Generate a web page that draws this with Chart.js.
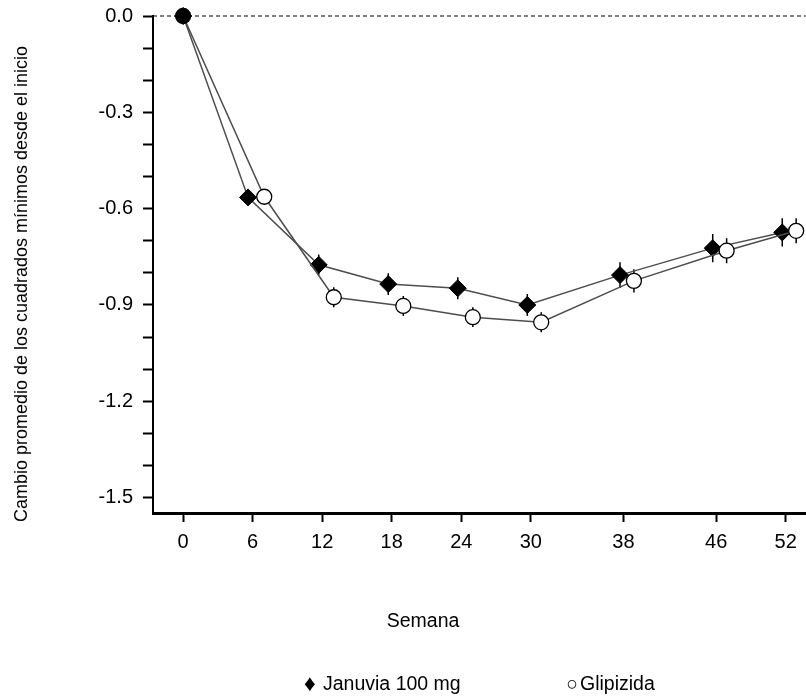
<!DOCTYPE html>
<html>
<head>
<meta charset="utf-8">
<script src="https://cdn.jsdelivr.net/npm/chart.js@4.4.1/dist/chart.umd.min.js"></script>
<style>
  html, body { margin: 0; padding: 0; background: #fff; }
  #wrap { width: 806px; height: 699px; }
</style>
</head>
<body>
<div id="wrap"><canvas id="changeChart"></canvas></div>
<script>
// weeks shown on the x axis
const weeks = [0, 6, 12, 18, 24, 30, 38, 46, 52]
// where each point sits (the two groups are nudged apart a bit)
const januviaWeek = [0, 5.6, 11.7, 17.7, 23.7, 29.7, 37.7, 45.7, 51.7]
const glipizidaWeek = [0, 7.0, 13.0, 19.0, 25.0, 30.9, 38.9, 46.9, 52.9]
// LS mean change from baseline
const januvia = [0, -0.565, -0.775, -0.835, -0.848, -0.900, -0.807, -0.723, -0.674]
const glipizida = [0, -0.563, -0.876, -0.903, -0.938, -0.954, -0.825, -0.731, -0.669]
// error bar half lengths
const januviaErr = [0, 0.02, 0.032, 0.034, 0.034, 0.034, 0.04, 0.044, 0.044]
const glipizidaErr = [0, 0.02, 0.031, 0.031, 0.031, 0.031, 0.036, 0.039, 0.039]
// labelled y ticks
const yLabels = ['0.0', '-0.3', '-0.6', '-0.9', '-1.2', '-1.5']

const FONT = '"Liberation Sans", Arial, sans-serif'

// every 0.1 gets a tick mark, only the 0.3 steps get a label
let yTicks = []
yLabels.forEach(l => {
  let v = parseFloat(l)
  for (let k = 0; k < 3; k++) {
    let t = Math.round((v - k * 0.1) * 10) / 10
    if (t >= -1.5) yTicks.push(t)
  }
})

const extras = {
  id: 'extras',
  beforeDatasetsDraw(chart) {
    const { ctx, chartArea } = chart
    const x = chart.scales.x
    const y = chart.scales.y
    ctx.save()
    // dashed line at zero
    ctx.strokeStyle = '#000'
    ctx.lineWidth = 1
    ctx.setLineDash([4, 3])
    let y0 = y.getPixelForValue(0)
    ctx.beginPath()
    ctx.moveTo(chartArea.left, y0)
    ctx.lineTo(chartArea.right, y0)
    ctx.stroke()
    ctx.setLineDash([])
    // error bars
    ctx.lineWidth = 1.5
    chart.data.datasets.forEach(ds => {
      ds.data.forEach((p, i) => {
        let e = ds.err[i]
        if (!e) return
        let px = x.getPixelForValue(p.x)
        ctx.beginPath()
        ctx.moveTo(px, y.getPixelForValue(p.y + e))
        ctx.lineTo(px, y.getPixelForValue(p.y - e))
        ctx.stroke()
      })
    })
    ctx.restore()
  },
  afterDraw(chart) {
    const ctx = chart.ctx
    ctx.save()
    ctx.fillStyle = '#000'

    // y axis title
    ctx.save()
    ctx.translate(27, 284)
    ctx.rotate(-Math.PI / 2)
    ctx.textAlign = 'center'
    ctx.textBaseline = 'alphabetic'
    ctx.font = '18px ' + FONT
    ctx.fillText('Cambio promedio de los cuadrados mínimos desde el inicio', 0, 0)
    ctx.restore()

    ctx.textBaseline = 'middle'
    // x axis title
    ctx.textAlign = 'center'
    ctx.font = '19.5px ' + FONT
    ctx.fillText('Semana', 423, 622)

    // legend
    ctx.textAlign = 'left'
    let jan = chart.data.datasets[1]
    let gli = chart.data.datasets[0]
    ctx.font = '23px ' + FONT
    ctx.fillText('\u2666', 304, 685)
    ctx.font = '19.5px ' + FONT
    ctx.fillText(jan.label, 323, 685)
    ctx.fillText('\u25CB', 566, 685)
    ctx.fillText(gli.label, 580, 685)
    ctx.restore()
  }
}

let ctx = document.getElementById('changeChart').getContext('2d')

let chart = new Chart(ctx, {
  type: 'line',
  data: {
    datasets: [{
      label: 'Glipizida',
      data: glipizidaWeek.map((w, i) => ({ x: w, y: glipizida[i] })),
      err: glipizidaErr,
      borderColor: '#4d4d4d',
      borderWidth: 1.5,
      pointStyle: 'circle',
      pointRadius: 7.5,
      pointBorderWidth: 1.3,
      pointBorderColor: '#000',
      pointBackgroundColor: c => c.dataIndex === 0 ? '#000' : '#fff',
      tension: 0,
      clip: false
    }, {
      label: 'Januvia 100 mg',
      data: januviaWeek.map((w, i) => ({ x: w, y: januvia[i] })),
      err: januviaErr,
      borderColor: '#4d4d4d',
      borderWidth: 1.5,
      pointStyle: 'rectRot',
      pointRadius: 8.5,
      pointBorderWidth: 1,
      pointBorderColor: '#000',
      pointBackgroundColor: '#000',
      tension: 0,
      clip: false
    }]
  },
  options: {
    responsive: true,
    maintainAspectRatio: false,
    animation: false,
    layout: { autoPadding: false, padding: { top: 16, left: 0, right: 0, bottom: 0 } },
    plugins: {
      legend: { display: false },
      tooltip: { enabled: false }
    },
    scales: {
      x: {
        type: 'linear',
        min: -2.6,
        max: 53.75,
        afterBuildTicks: s => { s.ticks = weeks.map(v => ({ value: v })) },
        afterFit: s => {
          s.height = 186
          s.paddingLeft = 0
          s.paddingRight = 0
        },
        grid: { drawOnChartArea: false, tickLength: 9, color: '#000', tickWidth: 2 },
        border: { color: '#000', width: 3 },
        ticks: {
          color: '#000',
          font: { size: 20, family: FONT },
          padding: 8,
          maxRotation: 0,
          autoSkip: false,
          callback: v => String(v)
        }
      },
      y: {
        min: -1.548,
        max: 0,
        afterBuildTicks: s => { s.ticks = yTicks.map(v => ({ value: v })) },
        afterFit: s => {
          s.width = 153
          s.paddingTop = 0
          s.paddingBottom = 0
        },
        grid: { drawOnChartArea: false, tickLength: 10, color: '#000', tickWidth: 2 },
        border: { color: '#000', width: 2 },
        ticks: {
          color: '#000',
          font: { size: 20, family: FONT },
          padding: 10,
          autoSkip: false,
          callback: v => {
            let l = yLabels.find(s => Math.abs(parseFloat(s) - v) < 1e-6)
            return l || ''
          }
        }
      }
    }
  },
  plugins: [extras]
})
</script>
</body>
</html>
